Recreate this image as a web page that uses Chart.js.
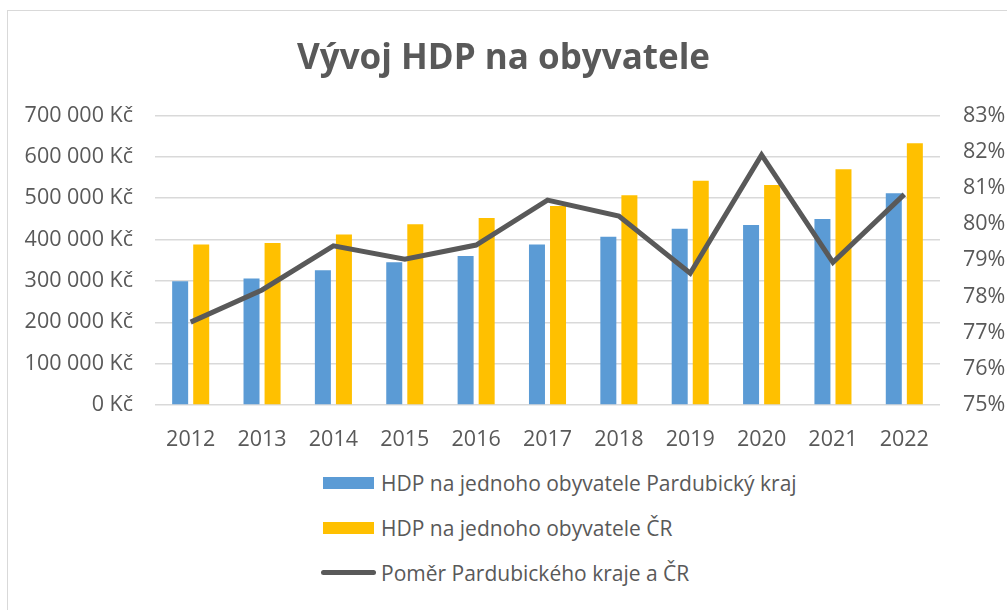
<!DOCTYPE html>
<html>
<head>
<meta charset="utf-8">
<script src="https://cdn.jsdelivr.net/npm/chart.js@4/dist/chart.umd.min.js"></script>
<style>
  body { margin: 0; background: #fff; font-family: 'Open Sans', sans-serif; }
  #frame { position: absolute; left: 7px; top: 10px; width: 1010px; height: 610px; border: 1px solid #d9d9d9; box-sizing: border-box; }
  #wrap { position: absolute; left: 0; top: 0; width: 1007px; height: 455px; }
  #legend { position: absolute; left: 323px; top: 460px; color: #595959; font-size: 21px; }
  .lg-item { display: flex; align-items: center; height: 45px; }
  .lg-box { width: 51px; height: 12px; margin-right: 7px; }
  .lg-line { width: 55px; height: 5px; border-radius: 3px; margin-left: -2px; margin-right: 5px; background: #595959; }
</style>
</head>
<body>
<div id="frame"></div>
<div id="wrap"><canvas id="hdpChart"></canvas></div>
<div id="legend"></div>
<script>
const years = ['2012', '2013', '2014', '2015', '2016', '2017', '2018', '2019', '2020', '2021', '2022'];
const hdpPardubice = [299000, 306000, 326000, 345000, 360000, 388000, 407000, 426000, 435000, 450000, 512000];
const hdpCR = [388000, 392000, 412000, 437000, 452000, 481000, 507000, 542000, 532000, 570000, 633000];
const pomer = [77.29, 78.18, 79.40, 79.03, 79.42, 80.66, 80.22, 78.64, 81.91, 78.94, 80.82];

const labelBlue = 'HDP na jednoho obyvatele Pardubický kraj';
const labelYellow = 'HDP na jednoho obyvatele ČR';
const labelLine = 'Poměr Pardubického kraje a ČR';

const gray = '#595959';
const tickFont = { family: 'Open Sans', size: 21.5 };

function kc(v) {
  return String(v).replace(/\B(?=(\d{3})+(?!\d))/g, ' ') + ' Kč';
}

const ctx = document.getElementById('hdpChart');
new Chart(ctx, {
  data: {
    labels: years,
    datasets: [
      {
        type: 'line',
        label: labelLine,
        data: pomer,
        yAxisID: 'y1',
        borderColor: gray,
        borderWidth: 5,
        pointRadius: 0,
        tension: 0,
        order: 0,
      },
      {
        type: 'bar',
        label: labelBlue,
        data: hdpPardubice,
        yAxisID: 'y',
        backgroundColor: '#5b9bd5',
        categoryPercentage: 0.59,
        barPercentage: 0.76,
        order: 1,
      },
      {
        type: 'bar',
        label: labelYellow,
        data: hdpCR,
        yAxisID: 'y',
        backgroundColor: '#ffc000',
        categoryPercentage: 0.59,
        barPercentage: 0.76,
        order: 1,
      },
    ],
  },
  options: {
    responsive: true,
    maintainAspectRatio: false,
    animation: false,
    layout: { padding: 0 },
    plugins: {
      legend: { display: false },
      tooltip: { enabled: false },
      title: {
        display: true,
        text: 'Vývoj HDP na obyvatele',
        color: gray,
        font: { family: 'Open Sans', size: 35, weight: 'bold', lineHeight: 1.2 },
        padding: { top: 38, bottom: 35.5 },
      },
    },
    scales: {
      x: {
        grid: { display: false },
        border: { display: false },
        ticks: { color: gray, font: tickFont, padding: 14 },
        afterFit: axis => { axis.height = 50; },
      },
      y: {
        position: 'left',
        min: 0,
        max: 700000,
        ticks: { stepSize: 100000, color: gray, font: tickFont, padding: 22, callback: kc },
        grid: { color: '#d9d9d9', lineWidth: 1.5, drawTicks: false },
        border: { display: false },
        afterFit: axis => { axis.width = 155; },
      },
      y1: {
        position: 'right',
        min: 75,
        max: 83,
        ticks: { stepSize: 1, color: gray, font: tickFont, padding: 23, callback: v => v + '%' },
        grid: { display: false, drawTicks: false },
        border: { display: false },
        afterFit: axis => { axis.width = 67; },
      },
    },
  },
});

// legend below, stacked like the original
const legend = document.getElementById('legend');
legend.innerHTML = `
  <div class="lg-item"><span class="lg-box" style="background:#5b9bd5"></span>${labelBlue}</div>
  <div class="lg-item"><span class="lg-box" style="background:#ffc000"></span>${labelYellow}</div>
  <div class="lg-item"><span class="lg-line"></span>${labelLine}</div>
`;
</script>
</body>
</html>
